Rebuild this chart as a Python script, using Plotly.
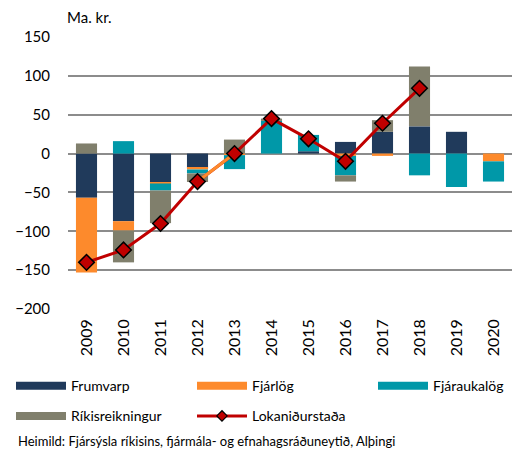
import plotly.graph_objects as go

# years and values (ma. kr.)
years = ["2009", "2010", "2011", "2012", "2013", "2014", "2015", "2016", "2017", "2018", "2019", "2020"]
frumvarp = [-57, -87, -37, -18.5, 0, 0, 3, 15, 28, 35, 28, 0]
fjarlog = [-96, -12, -1.5, -2, -2, 0, 0, -3, -3, 0, 0, -10]
fjaraukalog = [0, 16, -9, -5, -18, 42, 21, -25, 0, -28, -43, -26]
rikisreikningur = [13, -41, -42, -11, 18, 3, 0, -8, 15, 77, 0, 0]
lokanidurstada = [-140, -124, -90, -36, 0, 45, 19, -10, 39, 84, None, None]

colors = {
    "Frumvarp": "#203a5b",
    "Fjárlög": "#fd8a2c",
    "Fjáraukalög": "#0098a8",
    "Ríkisreikningur": "#807f6c",
}
red = "#c00000"
font = "Lato"

fig = go.Figure()

series = [("Frumvarp", frumvarp, "legend"), ("Fjárlög", fjarlog, "legend2"),
          ("Fjáraukalög", fjaraukalog, "legend3"), ("Ríkisreikningur", rikisreikningur, "legend")]
for name, vals, leg in series:
    fig.add_trace(go.Bar(x=years, y=vals, name=name, marker_color=colors[name],
                         marker_line_width=0, showlegend=False))

# legend entries drawn as thick lines so they look like the wide swatches
empty = [None] * len(years)
for name, vals, leg in series:
    fig.add_trace(go.Scatter(x=years, y=empty, mode="lines", name=name, legend=leg,
                             legendgroup=name, line=dict(color=colors[name], width=8)))
fig.add_trace(go.Scatter(x=years, y=empty, mode="lines+markers", name="Lokaniðurstaða",
                         legend="legend2", legendgroup="lok", line=dict(color=red, width=3),
                         marker=dict(symbol="diamond", size=8, color=red, line=dict(color="black", width=1.2))))

fig.add_trace(go.Scatter(x=years, y=lokanidurstada, mode="lines", showlegend=False,
                         line=dict(color=red, width=3)))
# the 2012-2013 segment is orange in the original
fig.add_trace(go.Scatter(x=years[3:5], y=lokanidurstada[3:5], mode="lines", showlegend=False,
                         line=dict(color=colors["Fjárlög"], width=3)))
fig.add_trace(go.Scatter(x=years, y=lokanidurstada, mode="markers", showlegend=False,
                         marker=dict(symbol="diamond", size=12, color=red, line=dict(color="black", width=1.5))))

leg_common = dict(orientation="v", xref="container", yref="container", yanchor="top", xanchor="left",
                  itemwidth=50, tracegroupgap=9, font=dict(family=font, size=14, color="black"),
                  bgcolor="rgba(0,0,0,0)", itemclick=False)

fig.update_layout(
    width=523, height=453,
    margin=dict(l=68, r=11, t=37, b=144, autoexpand=False),
    barmode="relative", bargap=0.43,
    plot_bgcolor="white", paper_bgcolor="white",
    font=dict(family=font, size=15, color="black"),
    xaxis=dict(type="category", range=[-0.5, len(years) - 0.5], tickangle=-90, showgrid=False,
               showline=False, ticks="", tickfont=dict(size=16), ticklabelstandoff=6, automargin=False),
    yaxis=dict(range=[-200, 150], dtick=50, showgrid=True, gridcolor="#8c8c8c", gridwidth=2,
               zeroline=True, zerolinecolor="#8c8c8c", zerolinewidth=2, showline=False,
               ticks="", ticklabelstandoff=17, tickfont=dict(size=15), automargin=False),
    legend=dict(x=11 / 523, y=0.183, **leg_common),
    legend2=dict(x=192 / 523, y=0.183, **leg_common),
    legend3=dict(x=373 / 523, y=0.183, **leg_common),
    annotations=[
        dict(text="Ma. kr.", xref="paper", yref="paper", x=-0.007, y=1.072, xanchor="left",
             yanchor="middle", showarrow=False, font=dict(size=15)),
        dict(text="Heimild: Fjársýsla ríkisins, fjármála- og efnahagsráðuneytið, Alþingi",
             xref="paper", yref="paper", x=-52 / 444, y=-132 / 272, xanchor="left",
             yanchor="middle", showarrow=False, font=dict(size=13)),
    ],
)

fig.write_html("out.html", config={"displayModeBar": False},
               post_script="document.body.style.margin = '0px';")
